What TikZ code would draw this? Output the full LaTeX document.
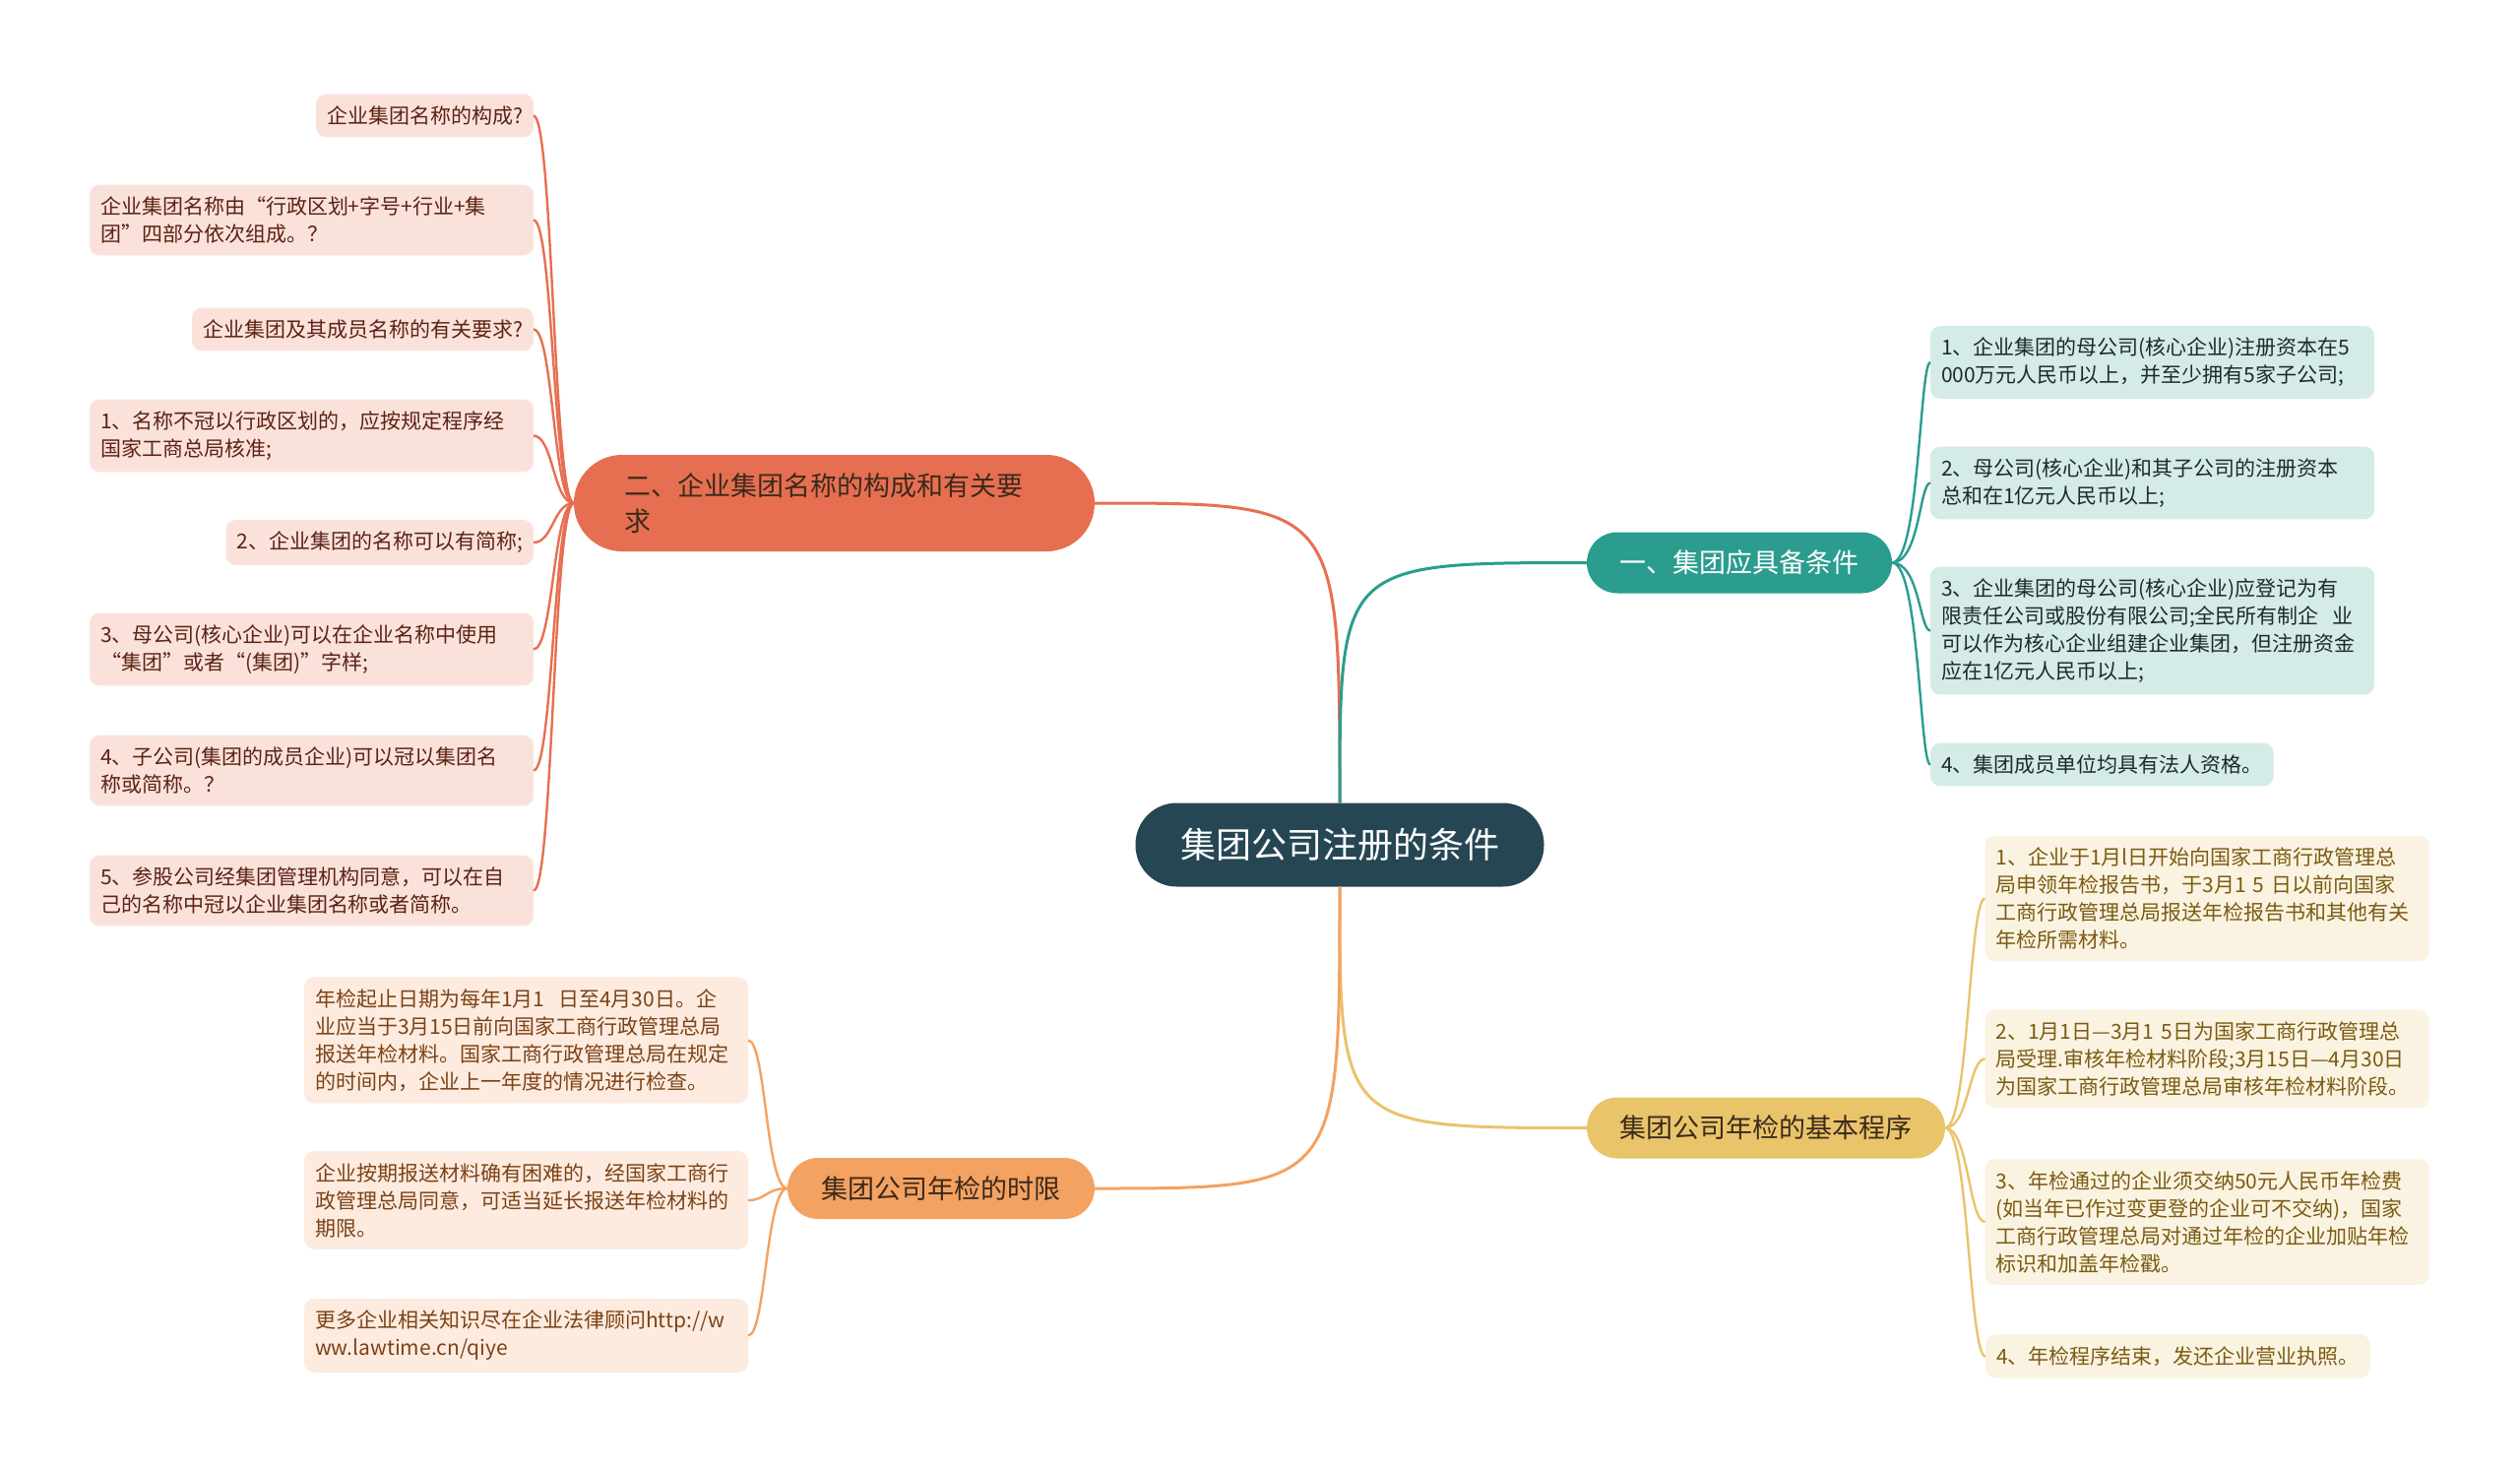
\documentclass[tikz,border=0pt]{standalone}
\usepackage{fontspec}
\setmainfont{Noto Sans CJK SC}
\definecolor{rootC}{HTML}{264653}
\definecolor{tealC}{HTML}{2A9D8F}
\definecolor{yellC}{HTML}{E9C46A}
\definecolor{oranC}{HTML}{F4A261}
\definecolor{coraC}{HTML}{E76F51}
\definecolor{tealL}{HTML}{D5EBE8}
\definecolor{yellL}{HTML}{FBF3E1}
\definecolor{oranL}{HTML}{FDEBE0}
\definecolor{coraL}{HTML}{FAE2DB}
\definecolor{tealT}{HTML}{1C2B2A}
\definecolor{yellT}{HTML}{7A5B12}
\definecolor{oranT}{HTML}{7C4214}
\definecolor{coraT}{HTML}{5C2213}
\definecolor{branchT}{HTML}{3B2A1C}
\begin{document}
\begin{tikzpicture}[x=1pt,y=-1pt,
  every node/.style={inner sep=0pt, outer sep=0pt},
  leafbase/.style={rounded corners=10pt, inner xsep=11pt, inner ysep=12pt, font=\fontsize{21}{28}\selectfont, align=left},
  multi/.style={text width=429pt},
  coraleaf/.style={leafbase, fill=coraL, text=coraT},
  tealeaf/.style={leafbase, fill=tealL, text=tealT},
  yelleaf/.style={leafbase, fill=yellL, text=yellT},
  oranleaf/.style={leafbase, fill=oranL, text=oranT},
  branchbox/.style={rounded corners=31pt, minimum height=62pt, font=\fontsize{27}{36}\selectfont},
  mainline/.style={line width=3pt},
  subline/.style={line width=2.4pt}
]
\fill[white] (0,0) rectangle (2560,1494);
\useasboundingbox (0,0) rectangle (2560,1494);

% root
\node[fill=rootC, text=white, rounded corners=42pt, minimum width=415pt, minimum height=85pt,
  font=\fontsize{36}{44}\selectfont] (root) at (1361,858) {集团公司注册的条件};

% branches
\node[branchbox, fill=tealC, text=white, minimum width=310pt] (b1) at (1767,571.5) {一、集团应具备条件};
\node[fill=coraC, text=branchT, rounded corners=49pt, minimum height=98pt, inner xsep=51pt,
  text width=427pt, align=left, font=\fontsize{27}{36}\selectfont] (b2) at (847.5,511)
  {二、企业集团名称的构成和有关要\\求};
\node[branchbox, fill=yellC, text=branchT, minimum width=364pt] (b3) at (1794,1145.5) {集团公司年检的基本程序};
\node[branchbox, fill=oranC, text=branchT, minimum width=312pt] (b4) at (956,1207) {集团公司年检的时限};

% root connectors
\draw[mainline, coraC] (root.north) .. controls (1361,511) .. (b2.east);
\draw[mainline, tealC] (root.north) .. controls (1361,571.5) .. (b1.west);
\draw[mainline, yellC] (root.south) .. controls (1361,1145.5) .. (b3.west);
\draw[mainline, oranC] (root.south) .. controls (1361,1207) .. (b4.east);

% coral leaves
\node[coraleaf, anchor=east] (l1) at (542,117.5) {企业集团名称的构成?};
\node[coraleaf, multi] (l2) at (316.5,223.5) {企业集团名称由“行政区划+字号+行业+集\\团”四部分依次组成。？};
\node[coraleaf, anchor=east] (l3) at (542,334.5) {企业集团及其成员名称的有关要求?};
\node[coraleaf, multi] (l4) at (316.5,442.5) {1、名称不冠以行政区划的，应按规定程序经\\国家工商总局核准;};
\node[coraleaf, anchor=east] (l5) at (542,551) {2、企业集团的名称可以有简称;};
\node[coraleaf, multi] (l6) at (316.5,659.5) {3、母公司(核心企业)可以在企业名称中使用\\“集团”或者“(集团)”字样;};
\node[coraleaf, multi] (l7) at (316.5,782.5) {4、子公司(集团的成员企业)可以冠以集团名\\称或简称。？};
\node[coraleaf, multi] (l8) at (316.5,904.5) {5、参股公司经集团管理机构同意，可以在自\\己的名称中冠以企业集团名称或者简称。};
\foreach \n/\y in {l1/117.5,l2/223.5,l3/334.5,l4/442.5,l5/551,l6/659.5,l7/782.5,l8/904.5}
  \draw[subline, coraC] (b2.west) .. controls (562,511) and (562,\y) .. (\n.east);

% teal leaves
\node[tealeaf, multi] (t1) at (2186.5,368) {1、企业集团的母公司(核心企业)注册资本在5\\000万元人民币以上，并至少拥有5家子公司;};
\node[tealeaf, multi] (t2) at (2186.5,490.5) {2、母公司(核心企业)和其子公司的注册资本\\总和在1亿元人民币以上;};
\node[tealeaf, multi] (t3) at (2186.5,640.5) {3、企业集团的母公司(核心企业)应登记为有\\限责任公司或股份有限公司;全民所有制企\ \ 业\\可以作为核心企业组建企业集团，但注册资金\\应在1亿元人民币以上;};
\node[tealeaf, anchor=west] (t4) at (1961,776.5) {4、集团成员单位均具有法人资格。};
\foreach \n/\y in {t1/368,t2/490.5,t3/640.5,t4/776.5}
  \draw[subline, tealC] (b1.east) .. controls (1950,571.5) and (1950,\y) .. (\n.west);

% yellow leaves
\node[yelleaf, multi] (y1) at (2242,912.5) {1、企业于1月l日开始向国家工商行政管理总\\局申领年检报告书，于3月1 5 日以前向国家\\工商行政管理总局报送年检报告书和其他有关\\年检所需材料。};
\node[yelleaf, multi] (y2) at (2242,1075.5) {2、1月1日—3月1 5日为国家工商行政管理总\\局受理.审核年检材料阶段;3月15日—4月30日\\为国家工商行政管理总局审核年检材料阶段。};
\node[yelleaf, multi] (y3) at (2242,1241) {3、年检通过的企业须交纳50元人民币年检费\\(如当年已作过变更登的企业可不交纳)，国家\\工商行政管理总局对通过年检的企业加贴年检\\标识和加盖年检戳。};
\node[yelleaf, anchor=west] (y4) at (2017,1377.5) {4、年检程序结束，发还企业营业执照。};
\foreach \n/\y in {y1/912.5,y2/1075.5,y3/1241,y4/1377.5}
  \draw[subline, yellC] (b3.east) .. controls (2000,1145.5) and (2000,\y) .. (\n.west);

% orange leaves
\node[oranleaf, multi] (o1) at (534.5,1056.5) {年检起止日期为每年1月1\ \ 日至4月30日。企\\业应当于3月15日前向国家工商行政管理总局\\报送年检材料。国家工商行政管理总局在规定\\的时间内，企业上一年度的情况进行检查。};
\node[oranleaf, multi] (o2) at (534.5,1219) {企业按期报送材料确有困难的，经国家工商行\\政管理总局同意，可适当延长报送年检材料的\\期限。};
\node[oranleaf, multi] (o3) at (534.5,1356.5) {更多企业相关知识尽在企业法律顾问http://w\\ww.lawtime.cn/qiye};
\foreach \n/\y in {o1/1056.5,o2/1219,o3/1356.5}
  \draw[subline, oranC] (b4.west) .. controls (778,1207) and (778,\y) .. (\n.east);
\end{tikzpicture}
\end{document}
